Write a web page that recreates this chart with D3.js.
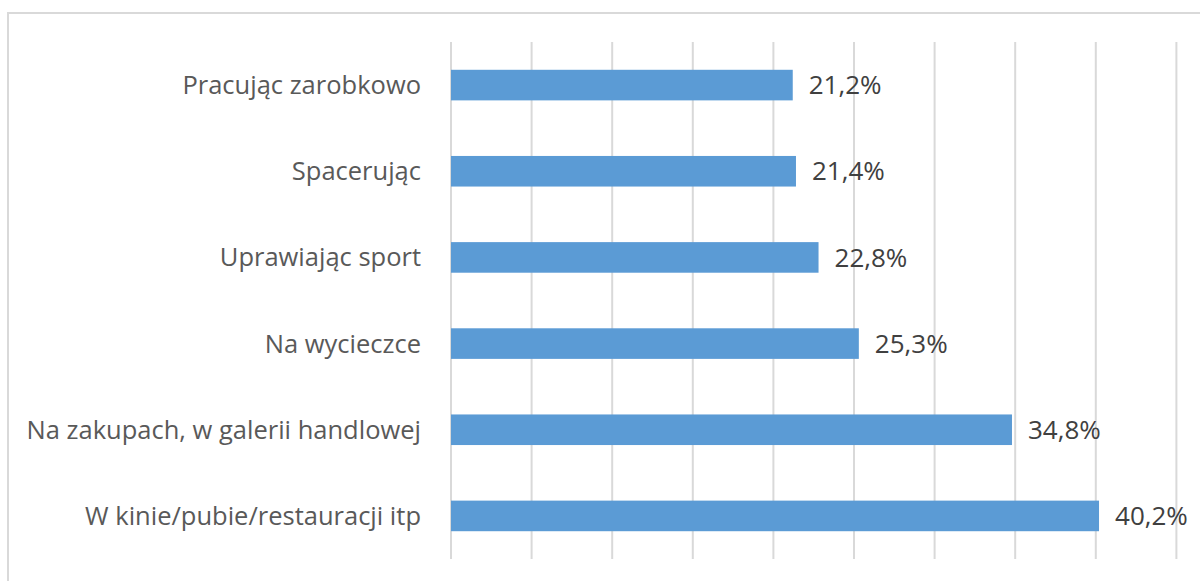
<!DOCTYPE html>
<html>
<head>
<meta charset="utf-8">
<script src="https://cdn.jsdelivr.net/npm/d3@7"></script>
<style>
  body { margin: 0; background: #fff; }
  text { font-family: "Open Sans", sans-serif; }
</style>
</head>
<body>
<svg id="chart" width="1200" height="581"></svg>
<script>
// categories top to bottom, values in percent
const categories = [
    "Pracując zarobkowo",
    "Spacerując",
    "Uprawiając sport",
    "Na wycieczce",
    "Na zakupach, w galerii handlowej",
    "W kinie/pubie/restauracji itp"
];
const values = [21.2, 21.4, 22.8, 25.3, 34.8, 40.2];
const gridTicks = [0, 5, 10, 15, 20, 25, 30, 35, 40, 45];

const margins = {top: 42, right: 23, bottom: 22, left: 451};

function drawFrame(chart){
    // chart area border, cut off on the right and bottom like the source image
    chart.append("rect")
        .attr("x", 8)
        .attr("y", 13)
        .attr("width", 1210)
        .attr("height", 600)
        .style("fill", "none")
        .style("stroke", "#d9d9d9")
        .style("stroke-width", 2);
}

function drawGrid(chart, xScale, top, height){
    chart.append("g")
        .attr("transform", `translate(0,${top})`)
        .selectAll("line").data(gridTicks)
        .enter().append("line")
        .attr("x1", d => xScale(d))
        .attr("x2", d => xScale(d))
        .attr("y1", 0)
        .attr("y2", height)
        .style("stroke", "#d9d9d9")
        .style("stroke-width", 2);
}

function barChart(id){
    let chart = d3.select("#" + id);
    let totalHeight = 581;
    let innerHeight = totalHeight - margins.top - margins.bottom;

    let xScale = d3.scaleLinear([0, 45], [margins.left, margins.left + 45 * 16.12]);
    let yScale = d3.scaleBand(categories, [margins.top, margins.top + innerHeight])
        .paddingInner(0.645)
        .paddingOuter(0.3225);

    drawFrame(chart);
    drawGrid(chart, xScale, margins.top, innerHeight);

    // bars
    chart.append("g").selectAll("rect")
        .data(values)
        .enter().append("rect")
        .attr("x", xScale(0))
        .attr("y", (d, i) => yScale(categories[i]))
        .attr("width", d => xScale(d) - xScale(0))
        .attr("height", yScale.bandwidth())
        .style("fill", "#5b9bd5");

    // category labels
    chart.append("g").selectAll("text")
        .data(categories)
        .enter().append("text")
        .attr("x", margins.left - 30)
        .attr("y", d => yScale(d) + yScale.bandwidth() / 2)
        .attr("dy", "0.35em")
        .attr("text-anchor", "end")
        .style("font-size", "25.5px")
        .style("fill", "#595959")
        .text(d => d);

    // value labels
    chart.append("g").selectAll("text")
        .data(values)
        .enter().append("text")
        .attr("x", d => xScale(d) + 16)
        .attr("y", (d, i) => yScale(categories[i]) + yScale.bandwidth() / 2)
        .attr("dy", "0.35em")
        .style("font-size", "26px")
        .style("fill", "#404040")
        .text(d => d.toFixed(1).replace(".", ",") + "%");
}

barChart("chart");
</script>
</body>
</html>
